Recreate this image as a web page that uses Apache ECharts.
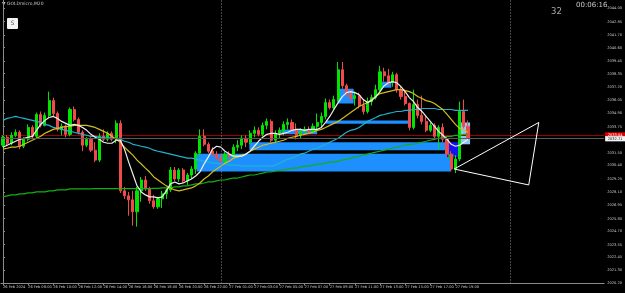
<!DOCTYPE html>
<html><head><meta charset="utf-8">
<script src="https://cdn.jsdelivr.net/npm/echarts@6/dist/echarts.min.js"></script>
<style>html,body{margin:0;padding:0;background:#000;}#c{width:625px;height:293px;}</style>
</head><body><div id="c"></div>
<script>
const xTickLabels = ['26 Feb 2024','26 Feb 08:00','26 Feb 10:00','26 Feb 12:00','26 Feb 14:00','26 Feb 16:00','26 Feb 18:00','26 Feb 20:00','26 Feb 22:00','27 Feb 01:00','27 Feb 03:00','27 Feb 05:00','27 Feb 07:00','27 Feb 09:00','27 Feb 11:00','27 Feb 13:00','27 Feb 15:00','27 Feb 17:00','27 Feb 19:00'];
const yTickValues = [2044.00,2042.85,2041.70,2040.60,2039.45,2038.35,2037.20,2036.05,2034.90,2033.75,2031.50,2030.40,2029.25,2028.10,2026.95,2025.80,2024.70,2023.55,2022.45,2021.30,2020.20];

const opens = [2032.15,2032.84,2032.32,2033.01,2033.27,2032.06,2032.66,2033.69,2032.92,2034.81,
2033.87,2034.73,2036.01,2034.90,2033.52,2033.78,2033.09,2035.24,2034.38,2033.27,
2032.15,2032.66,2031.72,2030.86,2032.92,2032.66,2033.18,2032.66,2034.04,2028.20,
2027.77,2027.42,2026.39,2028.20,2029.14,2028.37,2027.34,2026.82,2027.51,2027.94,
2028.28,2030.00,2029.23,2030.00,2029.06,2029.57,2030.09,2031.46,2032.92,2032.23,
2031.63,2031.38,2031.03,2030.77,2031.38,2031.20,2031.98,2032.15,2032.75,2032.41,
2033.18,2033.44,2033.09,2033.87,2034.21,2032.58,2033.18,2033.44,2033.95,2034.12,
2033.52,2033.01,2033.35,2033.52,2033.35,2033.78,2034.12,2034.64,2035.84,2035.41,
2036.10,2038.68,2037.30,2036.62,2036.19,2036.44,2035.59,2035.07,2035.93,2036.27,
2036.96,2038.50,2038.16,2037.56,2038.25,2036.96,2036.36,2035.76,2033.69,2035.67,
2034.73,2034.21,2033.44,2033.87,2032.92,2033.69,2032.66,2031.38,2030.09,2030.95,
2035.07,2033.78];
const closes = [2032.84,2032.32,2033.01,2033.27,2032.06,2032.66,2033.69,2032.92,2034.81,2033.87,
2034.73,2036.01,2034.90,2033.52,2033.78,2033.09,2035.24,2034.38,2033.27,2032.15,
2032.66,2031.72,2030.86,2032.92,2032.66,2033.18,2032.66,2034.04,2028.20,2027.77,
2027.42,2026.39,2028.20,2029.14,2028.37,2027.34,2026.82,2027.51,2027.94,2028.28,
2030.00,2029.23,2030.00,2029.06,2029.57,2030.09,2031.46,2032.92,2032.23,2031.63,
2031.38,2031.03,2030.77,2031.38,2031.20,2031.98,2032.15,2032.75,2032.41,2033.18,
2033.44,2033.09,2033.87,2034.21,2032.58,2033.18,2033.44,2033.95,2034.12,2033.52,
2033.01,2033.35,2033.52,2033.35,2033.78,2034.12,2034.64,2035.84,2035.41,2036.10,
2038.68,2037.30,2036.62,2036.19,2036.44,2035.59,2035.07,2035.93,2036.27,2036.96,
2038.50,2038.16,2037.56,2038.25,2036.96,2036.36,2035.76,2033.69,2035.67,2034.73,
2034.21,2033.44,2033.87,2032.92,2033.69,2032.66,2031.38,2030.09,2030.95,2035.07,
2033.78,2032.71];
const highs = [2033.01,2033.01,2033.27,2033.52,2033.44,2032.84,2033.95,2033.87,2034.98,2035.07,
2034.98,2036.79,2036.27,2035.07,2034.04,2033.95,2035.41,2035.50,2034.55,2033.44,
2032.84,2032.84,2032.41,2033.18,2033.52,2033.35,2033.35,2034.30,2034.30,2028.54,
2028.11,2028.20,2028.54,2029.40,2029.49,2028.54,2027.85,2027.68,2028.20,2028.45,
2030.26,2030.26,2030.17,2030.17,2029.74,2030.34,2031.63,2033.52,2033.52,2032.41,
2031.98,2031.63,2031.38,2031.55,2031.63,2032.23,2032.58,2033.01,2033.01,2033.44,
2033.78,2033.69,2034.12,2034.47,2034.38,2033.44,2033.69,2034.21,2034.47,2034.38,
2034.04,2033.61,2033.78,2033.78,2034.04,2034.90,2034.98,2036.19,2036.10,2036.44,
2039.36,2039.36,2037.47,2036.96,2036.79,2036.70,2036.10,2036.27,2036.53,2037.39,
2039.02,2038.85,2038.76,2038.50,2038.42,2037.30,2036.96,2035.84,2036.96,2036.10,
2036.44,2034.73,2034.12,2034.04,2033.87,2034.04,2032.92,2031.63,2031.29,2035.93,
2036.10,2034.30];
const lows = [2031.98,2032.15,2032.15,2032.84,2031.81,2031.89,2032.49,2032.75,2032.75,2033.69,
2033.78,2034.55,2034.64,2033.35,2033.01,2032.84,2032.92,2034.21,2033.09,2031.63,
2031.98,2031.55,2030.69,2030.69,2032.49,2032.49,2032.49,2032.32,2028.02,2027.51,
2026.05,2025.19,2025.10,2027.25,2028.20,2027.08,2026.65,2026.65,2026.73,2027.51,
2028.11,2029.06,2028.97,2028.88,2028.71,2029.23,2029.66,2031.29,2032.06,2031.46,
2031.20,2030.86,2030.60,2030.60,2030.95,2031.03,2031.63,2031.81,2031.98,2032.23,
2032.84,2032.92,2032.92,2033.52,2032.41,2032.41,2032.75,2033.01,2033.52,2033.35,
2032.66,2032.75,2033.09,2033.18,2033.18,2033.27,2033.69,2034.38,2035.24,2035.24,
2035.93,2037.04,2036.36,2036.01,2035.59,2035.33,2034.81,2034.90,2035.59,2036.10,
2036.79,2037.65,2037.30,2037.22,2036.70,2036.10,2035.59,2033.44,2033.52,2034.47,
2033.95,2033.27,2033.27,2032.66,2031.81,2032.41,2031.12,2029.92,2029.74,2030.77,
2033.61,2032.66];

const maWhite = [2031.98,2032.15,2032.32,2032.49,2032.66,2032.75,2032.84,2032.92,2033.44,2033.95,
2034.30,2034.55,2034.64,2034.47,2034.21,2034.04,2033.87,2033.95,2033.87,2033.69,
2033.44,2033.09,2032.84,2032.66,2032.41,2032.32,2032.32,2032.58,2032.58,2031.81,
2030.69,2029.66,2028.63,2028.11,2027.85,2027.68,2027.68,2027.59,2027.68,2028.20,
2028.80,2028.97,2028.80,2028.88,2029.06,2029.23,2029.49,2029.83,2030.52,2031.12,
2031.81,2032.06,2031.98,2031.63,2031.38,2031.20,2031.20,2031.20,2031.38,2031.63,
2032.06,2032.49,2032.84,2033.09,2033.18,2033.18,2033.09,2033.18,2033.27,2033.44,
2033.52,2033.52,2033.44,2033.52,2033.52,2033.52,2033.69,2034.12,2034.64,2035.24,
2035.84,2036.36,2036.70,2036.79,2036.70,2036.53,2036.10,2035.84,2036.01,2036.36,
2036.79,2037.30,2037.56,2037.65,2037.56,2037.22,2036.79,2036.27,2035.93,2035.41,
2035.07,2034.64,2034.21,2033.78,2033.35,2033.01,2032.66,2032.23,2032.06,2032.15,
2032.41,2032.66];
const maYellow = [2031.81,2031.89,2031.98,2031.98,2032.06,2032.23,2032.41,2032.58,2032.75,2032.92,
2033.18,2033.35,2033.52,2033.61,2033.69,2033.78,2033.78,2033.87,2033.87,2033.87,
2033.87,2033.78,2033.69,2033.52,2033.35,2033.18,2032.92,2032.66,2032.41,2031.98,
2031.63,2031.29,2030.86,2030.52,2030.17,2029.83,2029.40,2029.14,2028.88,2028.63,
2028.45,2028.28,2028.20,2028.28,2028.37,2028.45,2028.63,2028.88,2029.23,2029.49,
2029.83,2030.09,2030.34,2030.60,2030.77,2031.03,2031.12,2031.29,2031.38,2031.63,
2031.81,2031.98,2032.15,2032.23,2032.32,2032.41,2032.49,2032.58,2032.75,2032.84,
2032.92,2033.01,2033.09,2033.18,2033.27,2033.44,2033.52,2033.69,2033.87,2034.04,
2034.21,2034.47,2034.73,2034.98,2035.24,2035.50,2035.67,2035.84,2036.10,2036.36,
2036.62,2036.70,2036.79,2036.87,2036.96,2036.96,2036.87,2036.79,2036.62,2036.36,
2036.19,2036.01,2035.93,2035.76,2035.50,2035.24,2034.81,2034.38,2033.95,2033.61,
2033.44,2033.27];
const maCyan = [2034.30,2034.47,2034.55,2034.64,2034.55,2034.47,2034.38,2034.30,2034.21,2034.12,
2033.95,2033.87,2033.69,2033.61,2033.52,2033.44,2033.35,2033.27,2033.18,2033.09,
2033.01,2032.92,2032.92,2032.84,2032.84,2032.84,2032.75,2032.75,2032.66,2032.49,
2032.41,2032.23,2032.15,2032.06,2031.98,2031.89,2031.72,2031.63,2031.55,2031.46,
2031.38,2031.29,2031.20,2031.12,2031.03,2031.03,2030.95,2030.86,2030.77,2030.69,
2030.60,2030.60,2030.52,2030.52,2030.43,2030.43,2030.43,2030.34,2030.34,2030.34,
2030.34,2030.34,2030.34,2030.34,2030.34,2030.43,2030.60,2030.77,2030.95,2031.03,
2031.20,2031.38,2031.46,2031.63,2031.81,2031.89,2032.06,2032.23,2032.41,2032.58,
2032.75,2033.01,2033.27,2033.44,2033.52,2033.69,2033.95,2034.21,2034.38,2034.55,
2034.73,2034.81,2034.90,2034.98,2035.07,2035.07,2035.16,2035.16,2035.24,2035.24,
2035.33,2035.33,2035.33,2035.33,2035.24,2035.24,2035.24,2035.24,2035.16,2035.16,
2035.16,2035.16];
const maGreen = [2027.68,2027.77,2027.85,2027.85,2027.94,2027.94,2028.02,2028.02,2028.11,2028.11,
2028.11,2028.20,2028.20,2028.28,2028.28,2028.28,2028.37,2028.37,2028.37,2028.37,
2028.37,2028.37,2028.40,2028.40,2028.40,2028.40,2028.40,2028.40,2028.40,2028.40,
2028.40,2028.40,2028.40,2028.40,2028.40,2028.40,2028.42,2028.42,2028.45,2028.45,
2028.45,2028.54,2028.54,2028.63,2028.63,2028.71,2028.80,2028.80,2028.88,2028.97,
2028.97,2029.06,2029.14,2029.14,2029.23,2029.31,2029.31,2029.40,2029.49,2029.57,
2029.57,2029.66,2029.74,2029.83,2029.83,2029.92,2030.00,2030.00,2030.09,2030.17,
2030.17,2030.26,2030.34,2030.34,2030.43,2030.52,2030.52,2030.60,2030.69,2030.69,
2030.77,2030.86,2030.95,2031.03,2031.12,2031.20,2031.29,2031.38,2031.46,2031.55,
2031.63,2031.72,2031.81,2031.89,2031.98,2032.06,2032.15,2032.23,2032.23,2032.32,
2032.41,2032.49,2032.58,2032.66,2032.75,2032.84,2032.92,2032.92,2033.01,2033.01,
2033.09,2033.09];

const askPrice = 2033.04;
const bidPrice = 2032.71;
// zones: [fromBar, toBar, topPrice, bottomPrice, kind]
const zones = [
  [46.2, 107.0, 2031.42, 2029.87, 'zone'],
  [58.8, 105.8, 2032.41, 2031.72, 'zone'],
  [77.1, 97.3, 2034.30, 2034.00, 'zone'],
  [66.4, 75.0, 2033.52, 2033.09, 'zone'],
  [79.9, 83.7, 2037.04, 2035.76, 'zone'],
  [89.7, 92.7, 2037.65, 2037.13, 'zone'],
  [105.8, 109.1, 2032.41, 2031.12, 'dark'],
  [109.1, 111.5, 2034.12, 2032.23, 'pale'],
  [106.3, 107.5, 2031.38, 2030.95, 'green']
];
const triangleVertices = [[107.7, 2030.09], [127.9, 2034.12], [125.5, 2028.71], [107.7, 2030.09]];
const daySeparators = [52.2, 121.0];
const barSlots = 144;

const zoneColors = {zone: '#1E8FFF', dark: '#1212F2', pale: '#8EC4F6', green: '#10C010'};
const categories = Array.from({length: barSlots}, (_, i) => String(i));
const candleData = opens.map((o, i) => [o, closes[i], lows[i], highs[i]]);
const showTick = (idx) => idx % 6 === 0 && idx / 6 < xTickLabels.length;

const chart = echarts.init(document.getElementById('c'), null, {renderer: 'canvas'});
const lblFont = 'DejaVu Sans';
const tagLabel = (txt, bg, fg) => ({show: true, position: 'end', distance: 1, formatter: txt,
  backgroundColor: bg, color: fg, fontSize: 3.6, padding: [0.6, 2.5], fontFamily: lblFont});
chart.setOption({
  backgroundColor: '#000000',
  animation: false,
  grid: {left: 0, top: 0, right: 18, bottom: 9.5, containLabel: false},
  xAxis: [{
    type: 'category', data: categories, boundaryGap: true,
    axisLine: {show: true, lineStyle: {color: '#8a8a8a', width: 1}},
    axisTick: {show: true, alignWithLabel: true, interval: (i) => showTick(i), length: 2, lineStyle: {color: '#8a8a8a'}},
    axisLabel: {show: true, interval: (i) => showTick(i), formatter: (v, i) => xTickLabels[i / 6] || '',
      fontSize: 3.6, color: '#c8c8c8', align: 'left', margin: 2, fontFamily: lblFont},
    splitLine: {show: false}
  }, {
    type: 'value', min: -0.5, max: barSlots - 0.5, show: false
  }],
  yAxis: {
    type: 'value', position: 'right', min: 2020.18, max: 2044.72, scale: true,
    axisLine: {show: true, lineStyle: {color: '#8a8a8a', width: 1}},
    axisTick: {show: true, customValues: yTickValues, length: 2, lineStyle: {color: '#8a8a8a'}},
    axisLabel: {show: true, customValues: yTickValues, formatter: (v) => v.toFixed(2), fontSize: 3.6,
      color: '#c8c8c8', margin: 3, fontFamily: lblFont},
    splitLine: {show: false}
  },
  graphic: [
    {type: 'text', left: 2, top: 1, style: {text: '\u25BC GOLDmicro,M20', fill: '#c8c8c8', fontSize: 4.5, fontFamily: lblFont}},
    {type: 'rect', shape: {x: 7, y: 18, width: 11, height: 11, r: 1}, style: {fill: '#f2f2f2'}},
    {type: 'text', x: 12.5, y: 23.5, style: {text: 'S', fill: '#555555', fontSize: 6, fontFamily: lblFont, align: 'center', verticalAlign: 'middle'}},
    {type: 'text', x: 551, y: 7, style: {text: '32', fill: '#a8a8a8', fontSize: 8.5, fontFamily: lblFont}},
    {type: 'text', x: 576, y: 2, style: {text: '00:06:16', fill: '#c8c8c8', fontSize: 7, fontFamily: lblFont}}
  ],
  series: [
    {
      name: 'zones', type: 'line', xAxisIndex: 1, data: [], z: 1, silent: true,
      markArea: {silent: true, data: zones.map(z => [
        {coord: [z[0], z[2]], itemStyle: {color: zoneColors[z[4]], opacity: 1}},
        {coord: [z[1], z[3]]}
      ])},
      markLine: {silent: true, symbol: ['none', 'none'], label: {show: false},
        lineStyle: {color: '#8a8a8a', type: [1, 2], width: 1},
        data: daySeparators.map(x => ({xAxis: x}))}
    },
    {
      name: 'GOLDmicro', type: 'candlestick', data: candleData, z: 3, barWidth: 2.6,
      itemStyle: {color: '#00E400', color0: '#F04A4A', borderColor: '#00E400', borderColor0: '#F04A4A', borderWidth: 1},
      markLine: {silent: true, symbol: ['none', 'none'], z: 2,
        lineStyle: {color: '#9A0000', width: 1, type: 'solid', opacity: 1},
        label: tagLabel(askPrice.toFixed(2), '#E00000', '#ffffff'),
        data: [{yAxis: askPrice}]}
    },
    {name: 'MA green', type: 'line', data: maGreen, symbol: 'none', z: 4, lineStyle: {color: '#12B012', width: 1.2}},
    {name: 'MA cyan', type: 'line', data: maCyan, symbol: 'none', z: 4, lineStyle: {color: '#1FB4CC', width: 1.2}},
    {name: 'MA yellow', type: 'line', data: maYellow, symbol: 'none', z: 4, lineStyle: {color: '#D2BE1E', width: 1.2}},
    {name: 'MA white', type: 'line', data: maWhite, symbol: 'none', z: 4, lineStyle: {color: '#F0F0F0', width: 1.2}},
    {name: 'triangle', type: 'line', xAxisIndex: 1, data: triangleVertices, symbol: 'none', z: 5,
      lineStyle: {color: '#ffffff', width: 1},
      markLine: {silent: true, symbol: ['none', 'none'],
        lineStyle: {color: '#5a5a5a', width: 1, type: 'solid', opacity: 1},
        label: tagLabel(bidPrice.toFixed(2), '#f4f4f4', '#000000'),
        data: [{yAxis: bidPrice}]}}
  ]
});
</script></body></html>
